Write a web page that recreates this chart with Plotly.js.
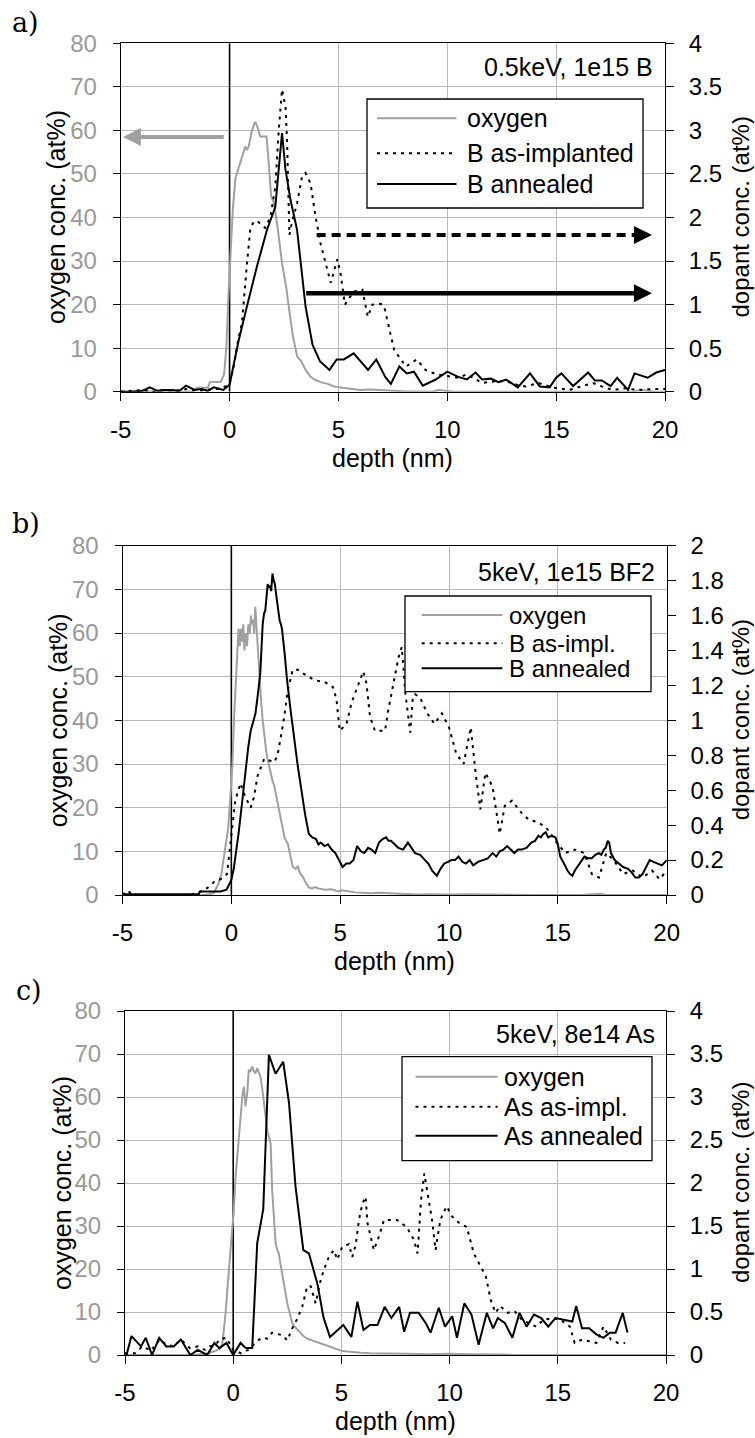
<!DOCTYPE html>
<html>
<head>
<meta charset="utf-8">
<script src="https://cdn.plot.ly/plotly-3.0.1.min.js"></script>
<style>html,body{margin:0;padding:0;background:#fff;}#chart{width:755px;height:1438px;}</style>
</head>
<body>
<div id="chart"></div>
<script>
// ---------------- DATA ----------------
const xTicks = [-5, 0, 5, 10, 15, 20];
const oxyTicks = [0, 10, 20, 30, 40, 50, 60, 70, 80];

// Panel a) 0.5keV, 1e15 B
const oxA_x = [-5,-4.5,-4,-3.5,-3,-2.5,-2,-1.7,-1.5,-1.0,-0.9,-0.4,-0.25,-0.15,-0.05,0.05,0.15,0.27,0.4,0.57,0.72,0.8,0.88,1.03,1.18,1.3,1.41,1.55,1.7,1.8,1.91,2.03,2.2,2.41,2.6,2.72,2.9,3.11,3.3,3.49,3.72,3.9,4.18,4.5,4.8,5.2,5.56,6,6.5,7,7.5,8,8.5,9.3,9.6,9.9,10.3,11,12,13,14,15,16,17,18,18.5,18.8,19.1,19.5,20];
const oxA_y = [0,0,0.2,0,0.2,0,0,0.1,0.9,0.9,2.2,2.3,4,10,22,33,42,49,51,54,56.3,55.5,56.3,60,62,60.5,58.6,58.6,58.6,52.4,44.8,43.5,38,29.5,24,19.5,13,8,7,5,3.4,2.8,2.2,1.8,1.2,0.9,0.6,0.4,0.5,0.3,0.2,0.1,0,0,0.4,0.3,0,0,0,0,0,0,0,0,0,0,0.3,0.3,0,0];
const implA_x = [-5,-4.5,-4,-3.5,-3,-2.5,-2,-1.5,-1,-0.6,-0.3,0,0.2,0.4,0.57,0.7,0.8,0.95,1.1,1.26,1.45,1.64,1.88,2.1,2.26,2.41,2.57,2.64,2.75,2.87,3.1,3.33,3.49,3.72,3.95,4.18,4.49,4.65,4.95,5.1,5.3,5.7,6.1,6.35,6.56,6.94,7.1,7.3,7.56,8.1,8.6,9.0,9.5,10,10.5,10.9,11.6,12.2,12.7,13.2,13.6,14.2,14.8,15.6,16.2,16.7,17.2,17.6,18.2,18.7,19.4,20];
const implA_y = [0,0.01,0.02,0,0.02,0.01,0.03,0.01,0.02,0.03,0.05,0.08,0.3,0.6,0.79,1.2,1.47,1.86,1.95,1.96,1.92,1.88,2.01,2.35,3.0,3.47,3.27,2.89,1.8,1.95,2.16,2.47,2.51,2.39,2.01,1.70,1.40,1.25,1.52,1.35,1.0,1.15,1.17,0.86,1.0,1.01,0.98,0.75,0.48,0.29,0.37,0.25,0.2,0.18,0.16,0.2,0.1,0.12,0.12,0.08,0.06,0.1,0.05,0.02,0.06,0.1,0.05,0.02,0.04,0.02,0.03,0.03];
const annA_x = [-5,-4.5,-4,-3.67,-3.3,-3,-2.67,-2.3,-2.0,-1.6,-1.3,-1.0,-0.73,-0.5,-0.29,0,0.42,0.8,1.26,1.72,2.1,2.41,2.57,2.8,3.1,3.49,3.81,4.15,4.59,4.92,5.25,5.7,6.0,6.36,6.74,7.15,7.41,7.8,8.14,8.47,8.87,9.47,10.0,10.5,10.9,11.3,11.6,12.0,12.35,12.7,13.24,13.8,14.25,14.7,15.0,15.24,15.78,16.47,16.78,17.1,17.5,17.8,18.3,18.6,19.2,19.6,20];
const annA_y = [0,0,0.01,0.05,0.01,0.02,0.02,0.01,0.07,0.02,0.03,0.01,0.05,0.03,0.02,0.08,0.59,0.98,1.44,1.86,2.12,2.97,2.55,2.20,1.86,0.98,0.54,0.35,0.25,0.37,0.37,0.44,0.35,0.25,0.37,0.17,0.09,0.29,0.21,0.23,0.07,0.14,0.23,0.17,0.14,0.22,0.14,0.15,0.11,0.14,0.05,0.21,0.06,0.05,0.16,0.21,0.065,0.22,0.13,0.13,0.065,0.16,0.02,0.21,0.16,0.22,0.25];

// Panel b) 5keV, 1e15 BF2
const oxB_x = [-5,-4,-3,-2,-1.2,-1.0,-0.8,-0.6,-0.45,-0.35,-0.25,-0.15,-0.05,0.05,0.12,0.2,0.28,0.33,0.38,0.44,0.5,0.55,0.6,0.67,0.72,0.78,0.85,0.9,0.95,1.0,1.05,1.1,1.15,1.2,1.28,1.36,1.44,1.52,1.6,1.67,1.75,1.82,1.9,1.97,2.05,2.12,2.25,2.36,2.45,2.59,2.7,2.82,2.95,3.05,3.15,3.28,3.4,3.56,3.7,3.85,4.0,4.3,4.6,4.9,5.1,5.33,5.7,6.0,6.4,6.8,7.2,7.6,8,8.5,9,10,11,12,13,14,15,16,17,17.2,18,19,20];
const oxB_y = [0,0,0,0,0,0.2,0.5,2.5,5,8.5,12,15,22,30,40,49,55,61,57,61,58,62,56,60,57,62,60,64,62,63,60,66,62,58,50,45,40,36,33,31,29,28,26,25,23,21,18,15.7,13,11.8,9,6.5,6,6.5,5,4.2,3,1.7,1.5,1.8,1.5,1.2,1.3,0.8,1.1,0.9,0.6,0.5,0.4,0.5,0.4,0.3,0.2,0.1,0.2,0.1,0.2,0.1,0,0,0,0,0.3,0,0,0,0];
const implB_x = [-5,-4.78,-4.5,-4,-3,-2,-1.56,-1.1,-0.78,-0.5,-0.2,0.03,0.18,0.42,0.65,0.89,1.04,1.2,1.51,1.97,2.12,2.28,2.43,2.59,2.82,3.05,3.28,3.82,4.28,4.67,4.83,4.98,5.29,5.52,5.83,6.06,6.21,6.37,6.6,7.06,7.21,7.45,7.68,7.83,8.0,8.22,8.33,8.44,8.67,9.0,9.33,9.67,10.0,10.33,10.67,11.0,11.22,11.44,11.67,12.0,12.33,12.56,12.89,13.33,13.67,14.0,14.44,14.89,15.33,15.78,16.22,16.56,16.89,17.22,17.56,18.0,18.44,18.89,19.33,19.67,20];
const implB_y = [0,0.025,0,0,0,0,0.01,0.04,0.076,0.09,0.12,0.37,0.54,0.64,0.56,0.5,0.56,0.68,0.78,0.76,0.8,0.91,1.02,1.17,1.29,1.29,1.27,1.23,1.22,1.19,1.12,0.94,0.98,1.10,1.21,1.28,1.21,1.02,0.94,0.94,1.06,1.21,1.36,1.42,1.15,0.93,1.12,1.15,1.13,1.04,0.98,1.04,0.96,0.81,0.75,0.96,0.70,0.49,0.70,0.62,0.35,0.51,0.54,0.47,0.43,0.42,0.39,0.31,0.24,0.26,0.24,0.12,0.10,0.24,0.20,0.12,0.14,0.10,0.14,0.09,0.14];
const annB_x = [-5,-4,-3,-2,-1.5,-1.45,-1,-0.5,-0.22,0,0.11,0.22,0.33,0.44,0.55,0.67,0.78,0.89,1.0,1.11,1.22,1.33,1.44,1.5,1.56,1.62,1.67,1.72,1.78,1.83,1.89,1.95,2.0,2.06,2.11,2.17,2.22,2.28,2.33,2.45,2.56,2.72,2.89,3.05,3.22,3.39,3.56,3.72,3.89,4.0,4.11,4.28,4.44,4.61,4.78,4.95,5.11,5.28,5.44,5.61,5.78,5.95,6.11,6.28,6.44,6.61,6.78,6.95,7.11,7.22,7.33,7.5,7.67,7.89,8.11,8.28,8.44,8.67,8.89,9.05,9.22,9.44,9.61,9.78,9.95,10.11,10.28,10.44,10.61,10.78,10.95,11.11,11.33,11.56,11.78,12.0,12.17,12.33,12.5,12.67,12.83,13.0,13.17,13.33,13.56,13.78,13.95,14.11,14.22,14.33,14.44,14.56,14.72,14.89,15.0,15.11,15.28,15.44,15.56,15.67,15.78,15.89,16.05,16.22,16.39,16.56,16.72,16.89,17.0,17.11,17.2,17.29,17.36,17.44,17.61,17.78,18.0,18.22,18.39,18.56,18.72,18.89,19.05,19.22,19.39,19.56,19.78,20];
const annB_y = [0.005,0.005,0.005,0.005,0.005,0.02,0.02,0.02,0.03,0.086,0.15,0.24,0.35,0.47,0.6,0.75,0.85,0.94,0.99,1.04,1.15,1.27,1.55,1.61,1.63,1.72,1.78,1.76,1.77,1.74,1.84,1.8,1.78,1.72,1.67,1.6,1.57,1.55,1.52,1.38,1.23,1.06,0.89,0.74,0.60,0.46,0.35,0.33,0.32,0.29,0.30,0.28,0.29,0.26,0.24,0.2,0.16,0.18,0.18,0.2,0.28,0.25,0.24,0.27,0.26,0.24,0.30,0.32,0.33,0.31,0.31,0.29,0.27,0.26,0.30,0.27,0.24,0.23,0.20,0.18,0.14,0.11,0.15,0.18,0.19,0.20,0.2,0.22,0.19,0.18,0.2,0.17,0.19,0.20,0.21,0.24,0.22,0.25,0.26,0.28,0.26,0.24,0.26,0.26,0.27,0.30,0.31,0.34,0.33,0.35,0.36,0.33,0.34,0.33,0.29,0.22,0.18,0.14,0.12,0.11,0.14,0.16,0.19,0.22,0.21,0.21,0.23,0.24,0.23,0.26,0.27,0.31,0.3,0.24,0.2,0.18,0.16,0.15,0.13,0.10,0.10,0.12,0.16,0.20,0.19,0.18,0.17,0.20];

// Panel c) 5keV, 8e14 As
const oxC_x = [-5,-4,-3,-2,-1.2,-1.0,-0.8,-0.6,-0.5,-0.36,-0.2,-0.1,-0.05,0.02,0.11,0.2,0.26,0.36,0.42,0.49,0.57,0.65,0.72,0.8,0.88,0.95,1.03,1.11,1.18,1.26,1.34,1.42,1.5,1.57,1.65,1.73,1.8,1.88,1.96,2.03,2.11,2.19,2.27,2.38,2.5,2.62,2.73,2.85,2.96,3.1,3.27,3.42,3.58,3.73,3.89,4.04,4.19,4.35,4.5,4.65,4.81,5.0,5.28,5.6,5.9,6.3,7,8,9,10,11,12,12.5,13,15,18,20];
const oxC_y = [0,0,0,0,0.3,0.6,1.0,1.5,2.7,9.3,21,26,29,33,41.5,47,51.6,56,60,62.4,57.8,61,66.3,66,67.1,66,65.5,66.7,65.5,64.7,62,59.3,55.5,52.3,50.5,49.2,38.4,31,26,24.5,23.6,21,19,15.5,12,9.5,7.4,6.5,5.9,5,4.3,3.8,3.5,3.3,3.1,2.8,2.4,2.1,1.8,1.5,1.2,1.0,0.8,0.6,0.5,0.4,0.3,0.3,0.2,0.3,0.2,0.2,0.1,0,0,0,0];
const implC_x = [-5,-4.53,-4.2,-3.8,-3.4,-3.09,-2.75,-2.42,-2.0,-1.64,-1.3,-1.09,-0.8,-0.64,-0.31,0,0.36,0.69,1.02,1.3,1.57,1.8,2.27,2.5,2.73,2.96,3.19,3.42,3.58,3.81,4.04,4.19,4.42,4.65,4.81,5.04,5.35,5.5,5.66,5.81,5.97,6.12,6.2,6.35,6.5,6.74,6.97,7.27,7.57,8.01,8.35,8.52,8.68,8.83,9.01,9.19,9.35,9.57,9.86,10.12,10.46,10.79,11.12,11.45,11.68,11.9,12.12,12.34,12.68,13.0,13.34,13.67,14.0,14.34,14.78,15.23,15.56,15.78,16.12,16.45,16.78,17.11,17.45,17.78,18.11];
const implC_y = [0.02,0.02,0.1,0.05,0.18,0.12,0.1,0.18,0.08,0.1,0.06,0.1,0.12,0.18,0.2,0.06,0.02,0.06,0.14,0.2,0.19,0.26,0.23,0.17,0.31,0.42,0.56,0.8,0.8,0.6,0.87,0.99,1.14,1.22,1.11,1.26,1.29,1.14,1.28,1.57,1.76,1.84,1.54,1.36,1.22,1.38,1.57,1.57,1.57,1.49,1.34,1.18,1.8,2.11,1.84,1.57,1.22,1.57,1.73,1.61,1.53,1.49,1.18,1.03,0.91,0.64,0.49,0.57,0.49,0.51,0.41,0.37,0.33,0.41,0.43,0.39,0.33,0.14,0.18,0.16,0.14,0.33,0.18,0.14,0.14];
const annC_x = [-4.93,-4.7,-4.26,-4.04,-3.75,-3.42,-3.09,-2.75,-2.42,-1.98,-1.64,-1.2,-0.87,-0.64,-0.31,0,0.34,0.58,0.88,1.11,1.39,1.65,1.96,2.31,2.58,2.88,3.24,3.5,3.89,4.17,4.47,5.09,5.46,5.74,6.02,6.32,6.67,7.0,7.31,7.67,7.9,8.17,8.57,8.9,9.12,9.5,9.79,10.12,10.34,10.68,11.01,11.34,11.72,12.01,12.23,12.56,12.9,13.23,13.56,13.9,14.23,14.56,14.89,15.34,15.67,15.85,16.12,16.45,16.78,17.11,17.4,17.67,18.0,18.22];
const annC_y = [0,0.22,0.1,0.2,0,0.2,0.1,0.1,0.18,0,0.06,0,0.14,0.08,0.14,0,0.14,0.08,0.08,1.30,1.7,3.49,3.27,3.41,2.93,1.96,1.22,1.18,0.83,0.44,0.21,0.35,0.21,0.62,0.29,0.35,0.35,0.56,0.43,0.56,0.27,0.49,0.49,0.37,0.26,0.55,0.33,0.45,0.2,0.6,0.47,0.12,0.49,0.31,0.43,0.37,0.2,0.49,0.33,0.47,0.43,0.33,0.43,0.41,0.39,0.57,0.31,0.31,0.24,0.2,0.26,0.26,0.49,0.26];

// ---------------- LABELS ----------------
const panelLabels = ['a)', 'b)', 'c)'];
const panelNotes = ['0.5keV, 1e15 B', '5keV, 1e15 BF2', '5keV, 8e14 As'];
const legendA = ['oxygen', 'B as-implanted', 'B annealed'];
const legendB = ['oxygen', 'B as-impl.', 'B annealed'];
const legendC = ['oxygen', 'As as-impl.', 'As annealed'];
const dopantMax = [4, 2, 4];
const dopantStep = [0.5, 0.2, 0.5];

// ---------------- CHECK ----------------
[[oxA_x,oxA_y,'oxA'],[implA_x,implA_y,'implA'],[annA_x,annA_y,'annA'],
 [oxB_x,oxB_y,'oxB'],[implB_x,implB_y,'implB'],[annB_x,annB_y,'annB'],
 [oxC_x,oxC_y,'oxC'],[implC_x,implC_y,'implC'],[annC_x,annC_y,'annC']].forEach(([a,b,n]) => {
  if (a.length !== b.length) throw new Error(n + ' length mismatch ' + a.length + ' vs ' + b.length);
});

// ---------------- STYLE / GEOMETRY ----------------
const W = 755, H = 1438;
const PX = x => x / W;
const PY = y => 1 - y / H;
const FONT = 'Liberation Sans, Arial, sans-serif';
const SERIF = 'DejaVu Serif, Liberation Serif, serif';
const GRID = '#b8b8b8';
const OXY_LINE = {color: '#a0a0a0', width: 2};
const IMPL_LINE = {color: '#000000', width: 2, dash: '3px,5px'};
const ANN_LINE = {color: '#000000', width: 2};

// plot area of each panel in pixels
const P = [
  {l: 120.7, r: 665.0, t: 43.3, b: 391.7, ltx: 56.5},
  {l: 122.5, r: 666.7, t: 545.7, b: 895.0, ltx: 58},
  {l: 125.0, r: 666.0, t: 1011.0, b: 1355.0, ltx: 62}
];
// legend boxes in pixels
const LG = [
  {x0: 367, x1: 643, y0: 99, y1: 208, lx0: 377, lx1: 456.5, tx: 465, ys: [118.3, 153.3, 184], fs: 25},
  {x0: 405, x1: 651, y0: 596, y1: 691.7, lx0: 421.7, lx1: 502.4, tx: 507, ys: [615, 643.3, 668.3], fs: 24},
  {x0: 402, x1: 652, y0: 1056.7, y1: 1160.7, lx0: 415.5, lx1: 497.6, tx: 502.4, ys: [1076.7, 1106.7, 1135.7], fs: 25}
];
const NOTE = [{x: 655, y: 67}, {x: 657, y: 571.7}, {x: 657, y: 1034}];
const LABPOS = [{x: 25, y: 22}, {x: 26, y: 523}, {x: 29, y: 990}];

// ---------------- TRACES ----------------
function line(x, y, xa, ya, style) {
  return {type: 'scatter', mode: 'lines', x: x, y: y, xaxis: xa, yaxis: ya,
          line: style, showlegend: false, hoverinfo: 'skip'};
}
const data = [
  line(oxA_x, oxA_y, 'x', 'y', OXY_LINE),
  line(implA_x, implA_y, 'x', 'y2', IMPL_LINE),
  line(annA_x, annA_y, 'x', 'y2', ANN_LINE),
  line(oxB_x, oxB_y, 'x2', 'y3', OXY_LINE),
  line(implB_x, implB_y, 'x2', 'y4', IMPL_LINE),
  line(annB_x, annB_y, 'x2', 'y4', ANN_LINE),
  line(oxC_x, oxC_y, 'x3', 'y5', OXY_LINE),
  line(implC_x, implC_y, 'x3', 'y6', IMPL_LINE),
  line(annC_x, annC_y, 'x3', 'y6', ANN_LINE)
];

// ---------------- LAYOUT ----------------
const layout = {
  width: W, height: H,
  margin: {l: 0, r: 0, t: 0, b: 0, pad: 0},
  paper_bgcolor: '#ffffff', plot_bgcolor: '#ffffff',
  font: {family: FONT, size: 24, color: '#000'},
  showlegend: false,
  shapes: [], annotations: []
};

const xNames = ['xaxis', 'xaxis2', 'xaxis3'];
const xIds = ['x', 'x2', 'x3'];
const yOxNames = ['yaxis', 'yaxis3', 'yaxis5'];
const yOxIds = ['y', 'y3', 'y5'];
const yDopNames = ['yaxis2', 'yaxis4', 'yaxis6'];
const yDopIds = ['y2', 'y4', 'y6'];
const yInNames = ['yaxis7', 'yaxis8', 'yaxis9'];
const legends = [legendA, legendB, legendC];

P.forEach((p, i) => {
  layout[xNames[i]] = {
    domain: [PX(p.l), PX(p.r)], anchor: yOxIds[i],
    range: [xTicks[0], xTicks[xTicks.length - 1]],
    tickmode: 'array', tickvals: xTicks, ticktext: xTicks.map(String),
    showgrid: true, gridcolor: GRID, gridwidth: 1,
    zeroline: false,
    showline: true, linecolor: '#000', linewidth: 1, mirror: true,
    ticks: 'outside', ticklen: 8, tickcolor: '#000', tickwidth: 1,
    ticklabelstandoff: 8,
    tickfont: {family: FONT, size: 24, color: '#000'},
    fixedrange: true
  };
  layout[yOxNames[i]] = {
    domain: [PY(p.b), PY(p.t)], anchor: xIds[i],
    range: [oxyTicks[0], oxyTicks[oxyTicks.length - 1]],
    tickmode: 'array', tickvals: oxyTicks, ticktext: oxyTicks.map(String),
    showgrid: true, gridcolor: GRID, gridwidth: 1, zeroline: false,
    showline: true, linecolor: '#000', linewidth: 1,
    ticks: 'outside', ticklen: 7, tickcolor: '#000', tickwidth: 1,
    ticklabelstandoff: 11,
    tickfont: {family: FONT, size: 24, color: '#999999'},
    fixedrange: true
  };
  layout[yDopNames[i]] = {
    overlaying: yOxIds[i], side: 'right', anchor: xIds[i],
    range: [0, dopantMax[i]], dtick: dopantStep[i], tick0: 0,
    showgrid: false, zeroline: false,
    showline: true, linecolor: '#000', linewidth: 1,
    ticks: 'outside', ticklen: 8, tickcolor: '#000', tickwidth: 1,
    ticklabelstandoff: 10,
    tickfont: {family: FONT, size: 24, color: '#000'},
    fixedrange: true
  };
  layout[yInNames[i]] = {
    overlaying: yOxIds[i], side: 'right', anchor: xIds[i],
    range: [0, dopantMax[i]], dtick: dopantStep[i], tick0: 0,
    showgrid: false, zeroline: false, showline: false, showticklabels: false,
    ticks: 'inside', ticklen: 5, tickcolor: '#000', tickwidth: 1,
    fixedrange: true
  };

  // vertical line at the surface (depth 0), between grid and traces
  layout.shapes.push({type: 'line', xref: xIds[i], yref: yOxIds[i], layer: 'between',
    x0: 0, x1: 0, y0: oxyTicks[0], y1: oxyTicks[oxyTicks.length - 1],
    line: {color: '#000', width: 1.6}});

  // axis titles
  const cy = (p.t + p.b) / 2;
  layout.annotations.push({xref: 'paper', yref: 'paper', x: PX((p.l + p.r) / 2), y: PY(p.b + 66),
    text: 'depth (nm)', showarrow: false, xanchor: 'center', yanchor: 'middle',
    font: {family: FONT, size: 25, color: '#000'}});
  layout.annotations.push({xref: 'paper', yref: 'paper', x: PX(p.ltx), y: PY(cy),
    text: 'oxygen conc. (at%)', textangle: -90, showarrow: false, xanchor: 'center', yanchor: 'middle',
    font: {family: FONT, size: 25, color: '#000'}});
  layout.annotations.push({xref: 'paper', yref: 'paper', x: PX(740), y: PY(cy),
    text: 'dopant conc. (at%)', textangle: -90, showarrow: false, xanchor: 'center', yanchor: 'middle',
    font: {family: FONT, size: 24, color: '#000'}});
  // panel label
  layout.annotations.push({xref: 'paper', yref: 'paper', x: PX(LABPOS[i].x), y: PY(LABPOS[i].y),
    text: panelLabels[i], showarrow: false, xanchor: 'center', yanchor: 'middle',
    font: {family: SERIF, size: 27, color: '#000'}});
  // note
  layout.annotations.push({xref: 'paper', yref: 'paper', x: PX(NOTE[i].x), y: PY(NOTE[i].y),
    text: panelNotes[i], showarrow: false, xanchor: 'right', yanchor: 'middle',
    font: {family: FONT, size: 25, color: '#000'}});

  // legend box
  const g = LG[i];
  layout.shapes.push({type: 'rect', xref: 'paper', yref: 'paper', layer: 'above',
    x0: PX(g.x0), x1: PX(g.x1), y0: PY(g.y1), y1: PY(g.y0),
    line: {color: '#000', width: 1.3}, fillcolor: '#ffffff'});
  [OXY_LINE, IMPL_LINE, ANN_LINE].forEach((st, k) => {
    layout.shapes.push({type: 'line', xref: 'paper', yref: 'paper', layer: 'above',
      x0: PX(g.lx0), x1: PX(g.lx1), y0: PY(g.ys[k]), y1: PY(g.ys[k]),
      line: {color: st.color, width: st.width, dash: st.dash || 'solid'}});
    layout.annotations.push({xref: 'paper', yref: 'paper', x: PX(g.tx), y: PY(g.ys[k]),
      text: legends[i][k], showarrow: false, xanchor: 'left', yanchor: 'middle',
      font: {family: FONT, size: g.fs, color: '#000'}});
  });
});

// arrows in panel a
layout.annotations.push({xref: 'x', yref: 'y', axref: 'x', ayref: 'y',
  x: -4.9, y: 58.5, ax: -0.2, ay: 58.5, text: '', showarrow: true,
  arrowhead: 2, arrowsize: 0.9, arrowwidth: 4, arrowcolor: '#a0a0a0', standoff: 0});
layout.shapes.push({type: 'line', xref: 'x', yref: 'y2', layer: 'above',
  x0: 4.0, x1: 18.8, y0: 1.8, y1: 1.8, line: {color: '#000', width: 4, dash: '9px,6px'}});
layout.annotations.push({xref: 'x', yref: 'y2', axref: 'x', ayref: 'y2',
  x: 19.4, y: 1.8, ax: 18.6, ay: 1.8, text: '', showarrow: true,
  arrowhead: 2, arrowsize: 0.8, arrowwidth: 4.5, arrowcolor: '#000', standoff: 0});
layout.annotations.push({xref: 'x', yref: 'y2', axref: 'x', ayref: 'y2',
  x: 19.4, y: 1.13, ax: 3.45, ay: 1.13, text: '', showarrow: true,
  arrowhead: 2, arrowsize: 0.8, arrowwidth: 4.5, arrowcolor: '#000', standoff: 0});

Plotly.newPlot('chart', data, layout, {staticPlot: true, displayModeBar: false});
</script>
</body>
</html>
